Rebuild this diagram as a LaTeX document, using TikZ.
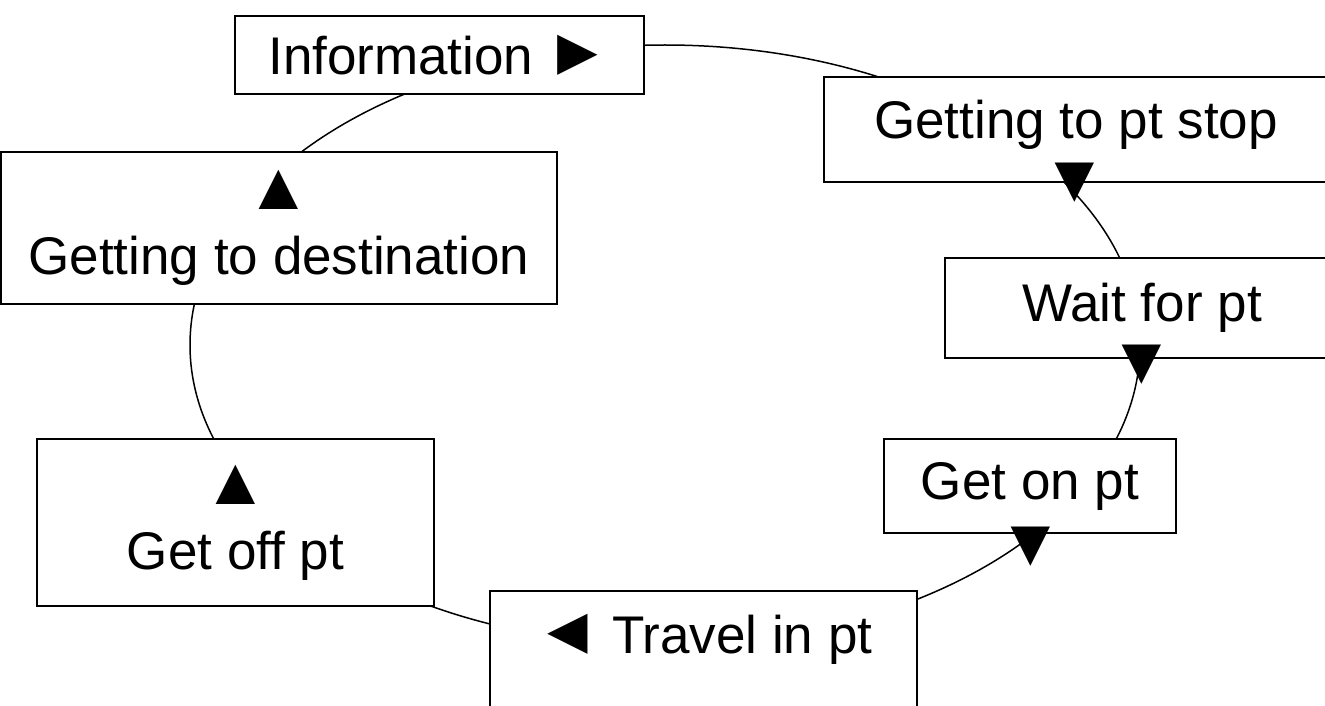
\documentclass[tikz,border=0pt]{standalone}
\usepackage{fontspec}
\usepackage{graphicx}
\setmainfont{Liberation Sans}
\newcommand\bigmark[1]{\scalebox{1.27}{#1}}
\begin{document}
\begin{tikzpicture}[x=1pt,y=-1pt,
  box/.style={draw, line width=2pt, fill=white, inner sep=0pt, align=center,
    font=\fontsize{53}{65}\selectfont},
  tri/.style={inner sep=0pt, font=\fontsize{53}{65}\selectfont},
  ring/.style={line width=1.5pt}]
\useasboundingbox (0,0) rectangle (1325,706);
% the cycle
\draw[ring] (665,345) ellipse [x radius=475pt, y radius=300pt];
% boxes
\node[box, minimum width=409pt, minimum height=78pt] (info) at (439.5,55) {Information\kern-4pt\ \bigmark{►}};
\node[box, minimum width=504pt, text height=62pt, text depth=43pt, anchor=north] (stop) at (1076,76) {Getting to pt stop};
\node[box, minimum width=394pt, minimum height=100pt] (wait) at (1142,308) {Wait for pt};
\node[box, minimum width=292pt, minimum height=94pt] (geton) at (1030,486) {Get on pt};
\node[box, minimum width=427pt, text height=62pt, text depth=140pt, anchor=north] (travel) at (703.5,590) {\bigmark{◄}\kern-4pt\ Travel in pt};
\node[box, minimum width=397pt, minimum height=167pt] (getoff) at (235.5,522.5) {\bigmark{▲}\\Get off pt};
\node[box, minimum width=556pt, minimum height=152pt] (dest) at (279,228) {\bigmark{▲}\\Getting to destination};
% direction marks lying on the cycle
\node[tri] (m1) at (1075,183) {\bigmark{▼}};
\node[tri] (m2) at (1142,365) {\bigmark{▼}};
\node[tri] (m3) at (1031,547) {\bigmark{▼}};
\end{tikzpicture}
\end{document}
